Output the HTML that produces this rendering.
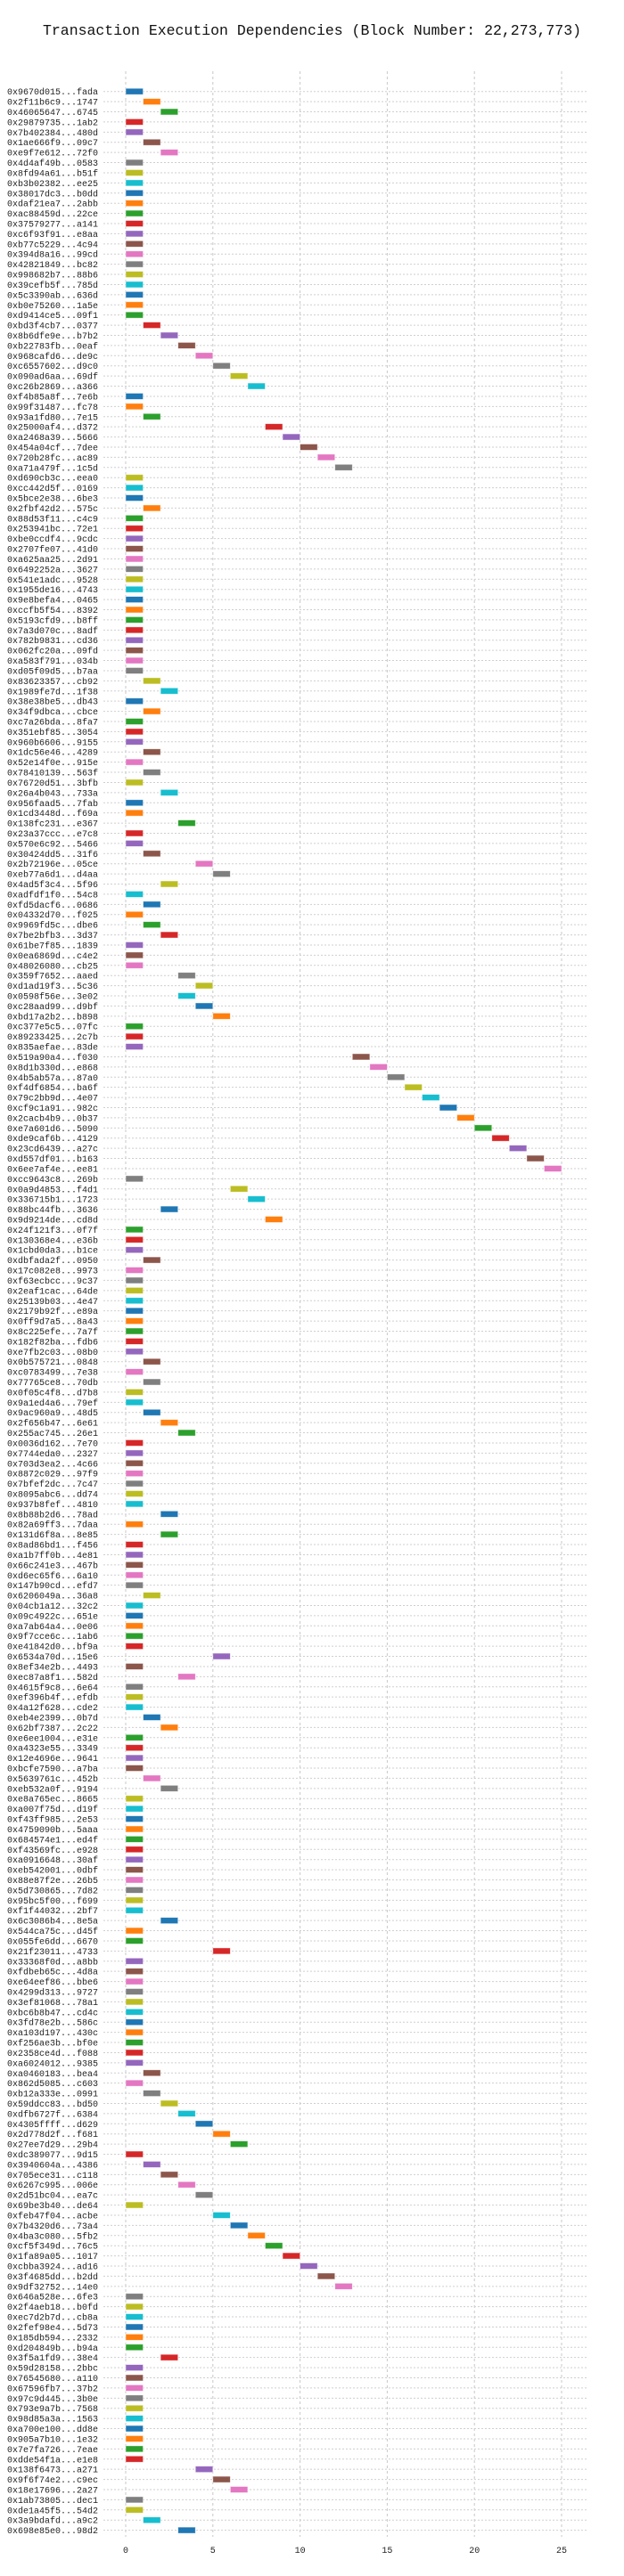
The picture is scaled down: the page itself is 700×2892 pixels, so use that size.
<!DOCTYPE html>
<html><head><meta charset="utf-8">
<style>
html,body{margin:0;padding:0;background:#fff;}
svg{display:block;}
text{font-family:"Liberation Mono","DejaVu Sans Mono",monospace;}
</style></head>
<body>
<svg id="chart" width="700" height="2892" viewBox="0 0 700 2892" xmlns="http://www.w3.org/2000/svg">
<text x="350" y="39" text-anchor="middle" font-size="16.5" fill="#111">Transaction Execution Dependencies (Block Number: 22,273,773)</text>
<g id="grid"></g><g id="rows"></g><g id="bars"></g><g id="ticks"></g>
</svg>
<script>
const txLabels = ["0x9670d015...fada","0x2f11b6c9...1747","0x46065647...6745","0x29879735...1ab2","0x7b402384...480d","0x1ae666f9...09c7","0xe9f7e612...72f0","0x4d4af49b...0583","0x8fd94a61...b51f","0xb3b02382...ee25",
"0x38017dc3...b0dd","0xdaf21ea7...2abb","0xac88459d...22ce","0x37579277...a141","0xc6f93f91...e8aa","0xb77c5229...4c94","0x394d8a16...99cd","0x42821849...bc82","0x998682b7...88b6","0x39cefb5f...785d",
"0x5c3390ab...636d","0xb0e75260...1a5e","0xd9414ce5...09f1","0xbd3f4cb7...0377","0x8b6dfe9e...b7b2","0xb22783fb...0eaf","0x968cafd6...de9c","0xc6557602...d9c0","0x090ad6aa...69df","0xc26b2869...a366",
"0xf4b85a8f...7e6b","0x99f31487...fc78","0x93a1fd80...7e15","0x25000af4...d372","0xa2468a39...5666","0x454a04cf...7dee","0x720b28fc...ac89","0xa71a479f...1c5d","0xd690cb3c...eea0","0xcc442d5f...0169",
"0x5bce2e38...6be3","0x2fbf42d2...575c","0x88d53f11...c4c9","0x253941bc...72e1","0xbe0ccdf4...9cdc","0x2707fe07...41d0","0xa625aa25...2d91","0x6492252a...3627","0x541e1adc...9528","0x1955de16...4743",
"0x9e8befa4...0465","0xccfb5f54...8392","0x5193cfd9...b8ff","0x7a3d070c...8adf","0x782b9831...cd36","0x062fc20a...09fd","0xa583f791...034b","0xd05f09d5...b7aa","0x83623357...cb92","0x1989fe7d...1f38",
"0x38e38be5...db43","0x34f9dbca...cbce","0xc7a26bda...8fa7","0x351ebf85...3054","0x960b6606...9155","0x1dc56e46...4289","0x52e14f0e...915e","0x78410139...563f","0x76720d51...3bfb","0x26a4b043...733a",
"0x956faad5...7fab","0x1cd3448d...f69a","0x138fc231...e367","0x23a37ccc...e7c8","0x570e6c92...5466","0x30424dd5...31f6","0x2b72196e...05ce","0xeb77a6d1...d4aa","0x4ad5f3c4...5f96","0xadfdf1f0...54c8",
"0xfd5dacf6...0686","0x04332d70...f025","0x9969fd5c...dbe6","0x7be2bfb3...3d37","0x61be7f85...1839","0x0ea6869d...c4e2","0x48026080...cb25","0x359f7652...aaed","0xd1ad19f3...5c36","0x0598f56e...3e02",
"0xc28aad99...d9bf","0xbd17a2b2...b898","0xc377e5c5...07fc","0x89233425...2c7b","0x835aefae...83de","0x519a90a4...f030","0x8d1b330d...e868","0x4b5ab57a...87a0","0xf4df6854...ba6f","0x79c2bb9d...4e07",
"0xcf9c1a91...982c","0x2cacb4b9...0b37","0xe7a601d6...5090","0xde9caf6b...4129","0x23cd6439...a27c","0xd557df01...b163","0x6ee7af4e...ee81","0xcc9643c8...269b","0x0a9d4853...f4d1","0x336715b1...1723",
"0x88bc44fb...3636","0x9d9214de...cd8d","0x24f121f3...0f7f","0x130368e4...e36b","0x1cbd0da3...b1ce","0xdbfada2f...0950","0x17c082e8...9973","0xf63ecbcc...9c37","0x2eaf1cac...64de","0x25139b03...4e47",
"0x2179b92f...e89a","0x0ff9d7a5...8a43","0x8c225efe...7a7f","0x182f82ba...fdb6","0xe7fb2c03...08b0","0x0b575721...0848","0xc0783499...7e38","0x77765ce8...70db","0x0f05c4f8...d7b8","0x9a1ed4a6...79ef",
"0x9ac960a9...48d5","0x2f656b47...6e61","0x255ac745...26e1","0x0036d162...7e70","0x7744eda0...2327","0x703d3ea2...4c66","0x8872c029...97f9","0x7bfef2dc...7c47","0x8095abc6...dd74","0x937b8fef...4810",
"0x8b88b2d6...78ad","0x82a69ff3...7daa","0x131d6f8a...8e85","0x8ad86bd1...f456","0xa1b7ff0b...4e81","0x66c241e3...467b","0xd6ec65f6...6a10","0x147b90cd...efd7","0x6206049a...36a8","0x04cb1a12...32c2",
"0x09c4922c...651e","0xa7ab64a4...0e06","0x9f7cce6c...1ab6","0xe41842d0...bf9a","0x6534a70d...15e6","0x8ef34e2b...4493","0xec87a8f1...582d","0x4615f9c8...6e64","0xef396b4f...efdb","0x4a12f628...cde2",
"0xeb4e2399...0b7d","0x62bf7387...2c22","0xe6ee1004...e31e","0xa4323e55...3349","0x12e4696e...9641","0xbcfe7590...a7ba","0x5639761c...452b","0xeb532a0f...9194","0xe8a765ec...8665","0xa007f75d...d19f",
"0xf43ff985...2e53","0x4759090b...5aaa","0x684574e1...ed4f","0xf43569fc...e928","0xa0916648...30af","0xeb542001...0dbf","0x88e87f2e...26b5","0x5d730865...7d82","0x95bc5f00...f699","0xf1f44032...2bf7",
"0x6c3086b4...8e5a","0x544ca75c...d45f","0x055fe6dd...6670","0x21f23011...4733","0x33368f0d...a8bb","0xfdbeb65c...4d8a","0xe64eef86...bbe6","0x4299d313...9727","0x3ef81068...78a1","0xbc6b8b47...cd4c",
"0x3fd78e2b...586c","0xa103d197...430c","0xf256ae3b...bf0e","0x2358ce4d...f088","0xa6024012...9385","0xa0460183...bea4","0x862d5085...c603","0xb12a333e...0991","0x59ddcc83...bd50","0xdfb6727f...6384",
"0x4305ffff...d629","0x2d778d2f...f681","0x27ee7d29...29b4","0xdc389077...9d15","0x3940604a...4386","0x705ece31...c118","0x6267c995...006e","0x2d51bc04...ea7c","0x69be3b40...de64","0xfeb47f04...acbe",
"0x7b4320d6...73a4","0x4ba3c080...5fb2","0xcf5f349d...76c5","0x1fa89a05...1017","0xcbba3924...ad16","0x3f4685dd...b2dd","0x9df32752...14e0","0x646a528e...6fe3","0x2f4aeb18...b0fd","0xec7d2b7d...cb8a",
"0x2fef98e4...5d73","0x185db594...2332","0xd204849b...b94a","0x3f5a1fd9...38e4","0x59d28158...2bbc","0x76545680...a110","0x67596fb7...37b2","0x97c9d445...3b0e","0x793e9a7b...7568","0x98d85a3a...1563",
"0xa700e100...dd8e","0x905a7b10...1e32","0x7e7fa726...7eae","0xdde54f1a...e1e8","0x138f6473...a271","0x9f6f74e2...c9ec","0x18e17696...2a27","0x1ab73805...dec1","0xde1a45f5...54d2","0x3a9bdafd...a9c2",
"0x698e85e0...98d2"];
const startTimes = [0,1,2,0,0,1,2,0,0,0, 0,0,0,0,0,0,0,0,0,0, 0,0,0,1,2,3,4,5,6,7, 0,0,1,8,9,10,11,12,0,0,
0,1,0,0,0,0,0,0,0,0, 0,0,0,0,0,0,0,0,1,2, 0,1,0,0,0,1,0,1,0,2, 0,0,3,0,0,1,4,5,2,0,
1,0,1,2,0,0,0,3,4,3, 4,5,0,0,0,13,14,15,16,17, 18,19,20,21,22,23,24,0,6,7, 2,8,0,0,0,1,0,0,0,0,
0,0,0,0,0,1,0,1,0,0, 1,2,3,0,0,0,0,0,0,0, 2,0,2,0,0,0,0,0,1,0, 0,0,0,0,5,0,3,0,0,0,
1,2,0,0,0,0,1,2,0,0, 0,0,0,0,0,0,0,0,0,0, 2,0,0,5,0,0,0,0,0,0, 0,0,0,0,0,1,0,1,2,3,
4,5,6,0,1,2,3,4,0,5, 6,7,8,9,10,11,12,0,0,0, 0,0,0,2,0,0,0,0,0,0, 0,0,0,0,4,5,6,0,0,1, 3];
const durations = startTimes.map(() => 1);
const xTicks = [0,5,10,15,20,25];
const palette = ["#1f77b4","#ff7f0e","#2ca02c","#d62728","#9467bd","#8c564b","#e377c2","#7f7f7f","#bcbd22","#17becf"];

const NS = "http://www.w3.org/2000/svg";
const X0 = 141, PX_PER_UNIT = 19.56, PLOT_L = 116, PLOT_R = 658, PLOT_T = 80, PLOT_B = 2848;
const ROW0 = 102.7, ROW_STEP = 11.408, BAR_H = 7;
const xScale = v => X0 + v * PX_PER_UNIT;
const yScale = i => ROW0 + i * ROW_STEP;
function mk(tag, attrs, parent) {
  const el = document.createElementNS(NS, tag);
  for (const k in attrs) el.setAttribute(k, attrs[k]);
  parent.appendChild(el);
  return el;
}
const grid = document.getElementById("grid"), rows = document.getElementById("rows"),
      bars = document.getElementById("bars"), ticks = document.getElementById("ticks");

xTicks.forEach(t => {
  const gx = xScale(t);
  const l = mk("line", {x1: gx, x2: gx, y1: PLOT_T, y2: PLOT_B, stroke: "#c8c8c8", "stroke-width": 1, "stroke-dasharray": "3,3"}, grid);
  
  
  const tx = mk("text", {x: gx, y: 2866, "text-anchor": "middle", "font-size": 10, fill: "#222"}, ticks);
  tx.textContent = t;
  
  
});

txLabels.forEach((lab, i) => {
  const y = yScale(i);
  const rl = mk("line", {x1: PLOT_L, x2: PLOT_R, y1: y, y2: y, stroke: "#cfcfcf", "stroke-width": 1, "stroke-dasharray": "2,2"}, rows);
  
  
  const t = mk("text", {x: 110, y: y + 3.5, "text-anchor": "end", "font-size": 10, fill: "#222"}, rows);
  t.textContent = lab;
  
  
  const s = startTimes[i], d = durations[i];
  const r = mk("rect", {x: xScale(s), y: y - BAR_H / 2, width: xScale(s + d) - xScale(s), height: BAR_H,
    fill: palette[i % 10], stroke: "#ffffff", "stroke-opacity": 0.6, "stroke-width": 0.8}, bars);
  
  
});
</script>
</body></html>
